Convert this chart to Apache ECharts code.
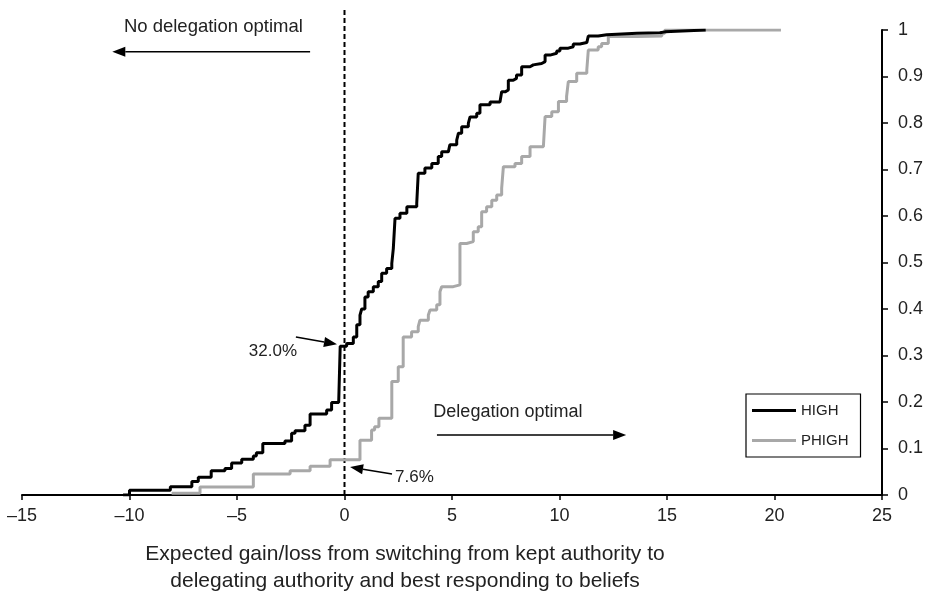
<!DOCTYPE html>
<html>
<head>
<meta charset="utf-8">
<script src="https://cdn.jsdelivr.net/npm/echarts@6/dist/echarts.min.js"></script>
<style>
  html, body { margin: 0; padding: 0; background: #fff; }
  #chart { width: 929px; height: 593px; }
</style>
</head>
<body>
<div id="chart"></div>
<script>
// HIGH: expected gain/loss (x) and cumulative share (y)
var highX = [-10.3, -10.0, -8.1, -7.1, -6.8, -6.2, -5.56, -5.25, -4.78, -4.24, -4.1, -3.8, -2.77, -2.46, -2.3, -1.84, -1.6, -0.83, -0.6, -0.27,
  -0.2, 0.1, 0.41, 0.57, 0.72, 0.8, 0.95, 1.1, 1.34, 1.57, 1.73, 1.96, 2.2, 2.27, 2.35, 2.58, 2.9, 3.36, 3.43, 3.74,
  4.06, 4.36, 4.52, 4.83, 4.9, 5.22, 5.3, 5.45, 5.76, 5.84, 6.15, 6.3, 6.77, 7.23, 7.31, 7.47, 7.62, 7.85, 8.0, 8.24,
  8.63, 8.78, 9.17, 9.33, 9.56, 9.87, 10.02, 10.41, 10.64, 10.95, 11.27, 11.34, 11.8, 12.2, 13.6, 14.67, 14.9, 16.8];
var highY = [0.0, 0.01, 0.018, 0.029, 0.038, 0.052, 0.057, 0.069, 0.077, 0.084, 0.091, 0.111, 0.116, 0.133, 0.138, 0.15, 0.174, 0.183, 0.199, 0.203,
  0.32, 0.326, 0.34, 0.366, 0.387, 0.40, 0.426, 0.437, 0.448, 0.459, 0.477, 0.487, 0.498, 0.53, 0.595, 0.606, 0.62, 0.627, 0.692, 0.703,
  0.713, 0.728, 0.738, 0.742, 0.753, 0.763, 0.778, 0.792, 0.799, 0.813, 0.821, 0.839, 0.845, 0.849, 0.867, 0.871, 0.892, 0.896, 0.903, 0.921,
  0.925, 0.928, 0.932, 0.946, 0.95, 0.955, 0.961, 0.964, 0.97, 0.973, 0.977, 0.987, 0.99, 0.993, 0.994, 0.996, 1.0, 1.0];

// PHIGH
var phighX = [-8.04, -6.72, -4.24, -2.53, -1.6, -0.67, 0.72, 1.26, 1.4, 1.6, 2.2, 2.5, 2.73, 3.12, 3.43, 3.51, 3.9, 3.98, 4.29, 4.44,
  4.52, 5.06, 5.37, 5.68, 5.99, 6.22, 6.38, 6.61, 6.85, 7.08, 7.31, 7.39, 7.93, 8.24, 8.63, 9.25, 9.33, 9.64, 9.95, 10.33,
  10.41, 10.8, 11.27, 11.34, 11.8, 11.96, 12.27, 13.59, 14.76, 14.9, 20.3];
var phighY = [0.004, 0.017, 0.045, 0.052, 0.062, 0.076, 0.118, 0.14, 0.147, 0.165, 0.244, 0.276, 0.34, 0.351, 0.362, 0.376, 0.387, 0.398, 0.409, 0.437,
  0.448, 0.452, 0.541, 0.545, 0.566, 0.577, 0.609, 0.62, 0.634, 0.645, 0.66, 0.706, 0.713, 0.728, 0.749, 0.753, 0.814, 0.824, 0.846, 0.857,
  0.889, 0.907, 0.914, 0.957, 0.964, 0.971, 0.986, 0.987, 0.993, 1.0, 1.0];

var xTicks = [-15, -10, -5, 0, 5, 10, 15, 20, 25];
var yTicks = [0, 0.1, 0.2, 0.3, 0.4, 0.5, 0.6, 0.7, 0.8, 0.9, 1];

var FONT = '"Liberation Sans", Arial, Helvetica, sans-serif';
var TXT = '#222';

function zip(xs, ys) {
  return xs.map(function (x, i) { return [x, ys[i]]; });
}

var chart = echarts.init(document.getElementById('chart'));

chart.setOption({
  animation: false,
  backgroundColor: '#fff',
  textStyle: { fontFamily: FONT },
  grid: { left: 22, right: 47, top: 30, bottom: 98 },
  legend: {
    orient: 'vertical',
    left: 746, top: 394,
    padding: [9, 12, 9, 6],
    itemGap: 15,
    itemWidth: 44, itemHeight: 3,
    icon: 'rect',
    borderColor: '#000', borderWidth: 1.2,
    textStyle: { fontSize: 15, color: TXT, fontFamily: FONT },
    data: ['HIGH', 'PHIGH']
  },
  xAxis: {
    type: 'value',
    min: xTicks[0], max: xTicks[xTicks.length - 1], interval: 5,
    axisLine: { onZero: false, lineStyle: { color: '#000', width: 2 } },
    axisTick: { show: true, length: 5, lineStyle: { color: '#000', width: 1.5 } },
    splitLine: { show: false },
    axisLabel: {
      fontSize: 18, color: TXT, margin: 12,
      formatter: function (v) { return String(v).replace('-', '\u2013'); }
    }
  },
  yAxis: {
    type: 'value',
    position: 'right',
    min: yTicks[0], max: yTicks[yTicks.length - 1], interval: 0.1,
    axisLine: { show: true, onZero: false, lineStyle: { color: '#000', width: 2 } },
    axisTick: { show: true, length: 6, lineStyle: { color: '#000', width: 1.5 } },
    splitLine: { show: false },
    axisLabel: { fontSize: 18, color: TXT, margin: 16 }
  },
  series: [
    {
      name: 'HIGH', type: 'line', step: 'end', symbol: 'none',
      data: zip(highX, highY),
      lineStyle: { color: '#000', width: 3 },
      itemStyle: { color: '#000' },
      z: 3
    },
    {
      name: 'PHIGH', type: 'line', step: 'end', symbol: 'none',
      data: zip(phighX, phighY),
      lineStyle: { color: '#a8a8a8', width: 3 },
      itemStyle: { color: '#a8a8a8' },
      z: 2
    }
  ]
});

// annotations, placed in data space
function px(p) { return chart.convertToPixel({ gridIndex: 0 }, p); }

function arrow(from, to) {
  var a = px(from), b = px(to);
  var dx = b[0] - a[0], dy = b[1] - a[1];
  var len = Math.sqrt(dx * dx + dy * dy);
  var ux = dx / len, uy = dy / len;
  var hl = 13, hw = 5;
  var base = [b[0] - ux * hl, b[1] - uy * hl];
  return [
    { type: 'line', shape: { x1: a[0], y1: a[1], x2: base[0], y2: base[1] },
      style: { stroke: '#000', lineWidth: 1.5 }, z: 10 },
    { type: 'polygon', shape: { points: [b, [base[0] - uy * hw, base[1] + ux * hw], [base[0] + uy * hw, base[1] - ux * hw]] },
      style: { fill: '#000' }, z: 10 }
  ];
}

function label(text, at, align, size) {
  var p = px(at);
  return { type: 'text', x: p[0], y: p[1], z: 10,
    style: { text: text, fill: TXT, font: size + 'px ' + FONT, align: align, verticalAlign: 'middle' } };
}

var g = [];
var z0 = px([0, 0]);
g.push({ type: 'line', shape: { x1: z0[0], y1: z0[1], x2: z0[0], y2: 7 },
  style: { stroke: '#000', lineWidth: 2, lineDash: [5, 3] }, z: 1 });

g = g.concat(arrow([-1.6, 0.953], [-10.8, 0.953]));
g = g.concat(arrow([4.3, 0.129], [13.1, 0.129]));
g = g.concat(arrow([-2.26, 0.34], [-0.35, 0.324]));
g = g.concat(arrow([2.21, 0.045], [0.26, 0.06]));

g.push(label('No delegation optimal', [-6.1, 1.006], 'center', 18.5));
g.push(label('Delegation optimal', [7.6, 0.178], 'center', 18));
g.push(label('32.0%', [-3.33, 0.308], 'center', 17));
g.push(label('7.6%', [2.35, 0.037], 'left', 17));

g.push({ type: 'text', x: 405, y: 541, z: 10,
  style: {
    text: 'Expected gain/loss from switching from kept authority to\ndelegating authority and best responding to beliefs',
    fill: TXT, font: '21px ' + FONT, align: 'center', verticalAlign: 'top', lineHeight: 27
  } });

chart.setOption({ graphic: g });
</script>
</body>
</html>
